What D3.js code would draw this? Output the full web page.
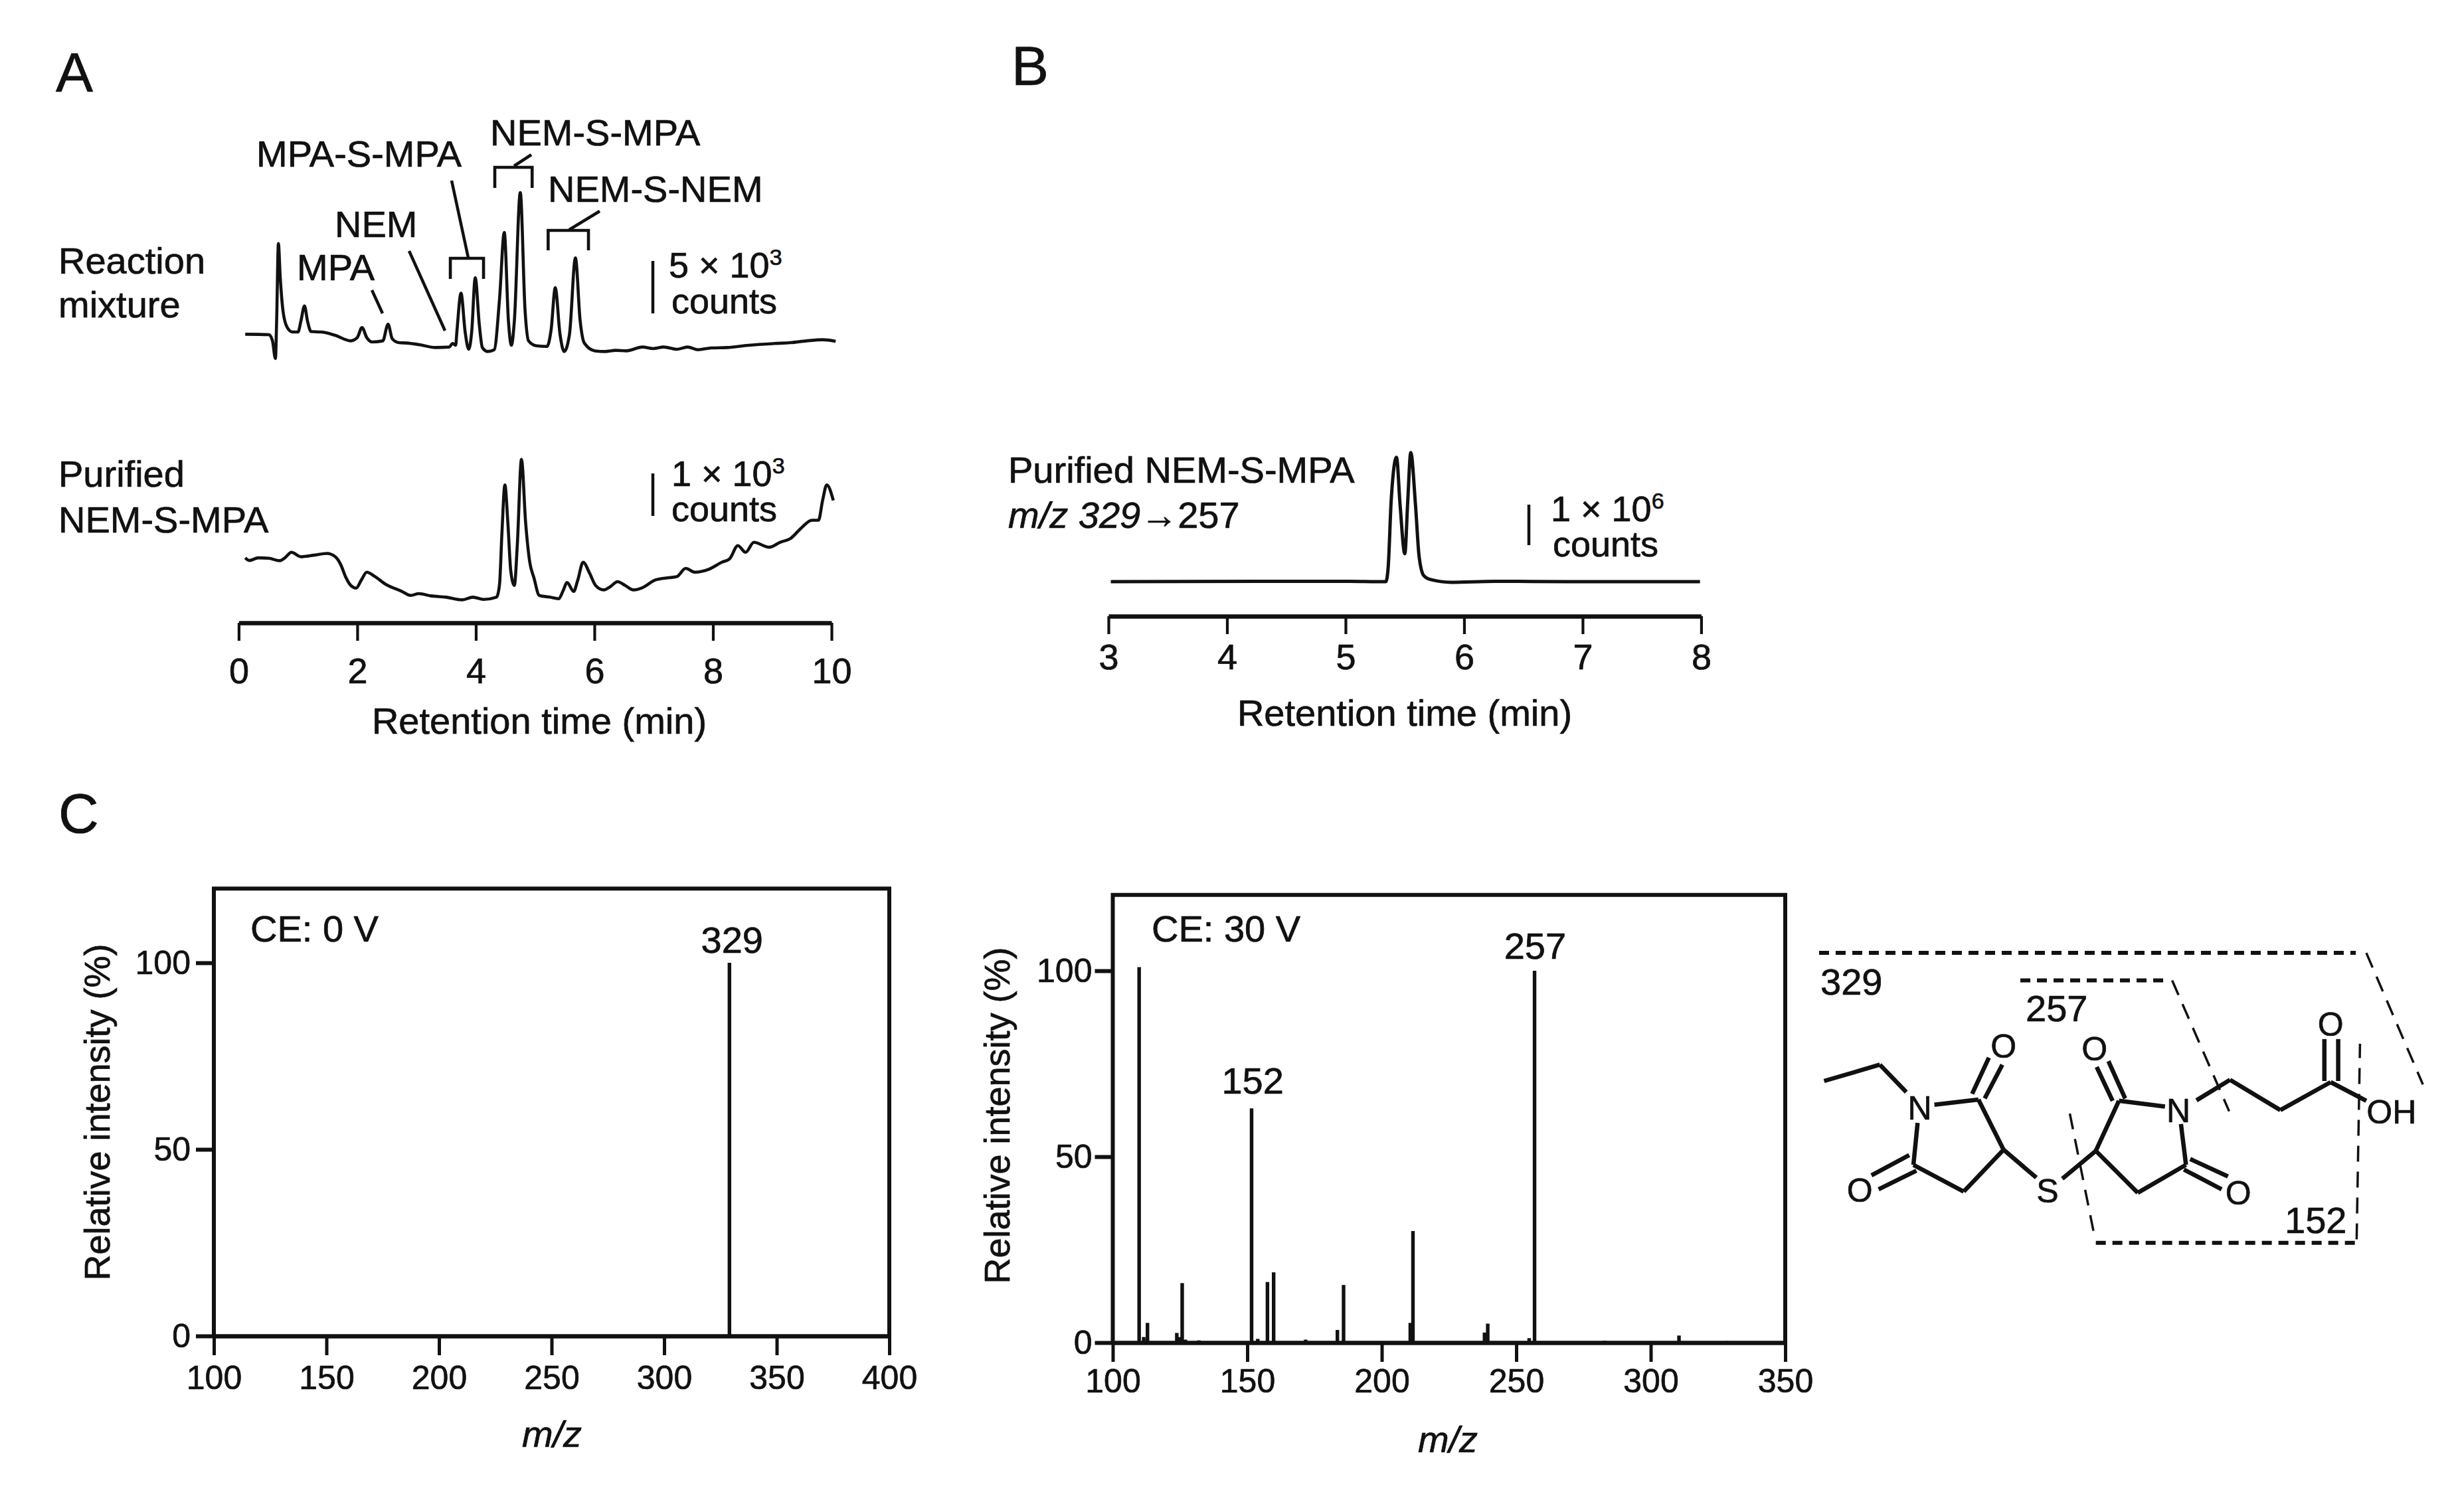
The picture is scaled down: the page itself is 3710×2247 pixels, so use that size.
<!DOCTYPE html>
<html>
<head>
<meta charset="utf-8">
<script src="https://cdn.jsdelivr.net/npm/d3@7"></script>
<style>
  html,body{margin:0;padding:0;background:#fff}
  svg{display:block}
  text{font-family:"Liberation Sans",Arial,sans-serif;font-size:56px;fill:#111;stroke:#111;stroke-width:.7px}
  .tick text{font-family:"Liberation Sans",Arial,sans-serif;font-size:54px;fill:#111;stroke:#111;stroke-width:.7px}
  .spec .tick text{font-size:50px}
</style>
</head>
<body>
<svg id="fig" width="3710" height="2247"></svg>
<script>
// panel A, reaction mixture trace: time (min), signal (counts)
const rmTime = [0.11,0.51,0.57,0.62,0.64,0.67,0.70,0.75,0.82,0.91,1.00,1.05,1.11,1.16,1.22,1.40,1.63,1.89,2.00,2.08,2.16,2.25,2.43,2.52,2.59,2.70,2.83,3.06,3.32,3.55,3.61,3.66,3.68,3.75,3.82,3.88,3.93,3.99,4.06,4.11,4.20,4.31,4.40,4.48,4.55,4.60,4.65,4.75,4.83,4.89,5.02,5.20,5.27,5.34,5.42,5.49,5.58,5.68,5.76,5.83,6.01,6.18,6.36,6.54,6.81,6.99,7.17,7.39,7.57,7.75,7.97,8.24,8.60,9.04,9.31,9.58,9.85,10.07];
const rmCounts = [2340,2300,1700,0,3620,11060,7870,4470,2980,2550,2550,3620,5060,3620,2600,2550,2230,1700,2020,2980,2020,1600,1700,3300,1910,1530,1490,1320,1060,1110,1450,1280,2550,6280,2550,890,2550,7770,3190,1060,680,850,5740,12130,3620,1280,3620,15960,4680,1700,1230,1170,2770,6810,2340,680,2340,9680,3620,1490,740,680,790,740,1110,960,1110,890,1110,850,1020,1060,1280,1450,1530,1700,1810,1660];
// panel A, purified trace
const puTime = [0.11,0.18,0.33,0.51,0.69,0.78,0.89,1.05,1.27,1.49,1.63,1.72,1.81,1.89,1.98,2.07,2.16,2.30,2.48,2.74,2.90,3.04,3.24,3.50,3.77,3.95,4.13,4.35,4.40,4.44,4.49,4.54,4.59,4.65,4.70,4.77,4.84,4.91,4.98,5.07,5.25,5.40,5.47,5.54,5.65,5.72,5.81,5.92,6.02,6.16,6.27,6.39,6.52,6.66,6.81,7.03,7.26,7.39,7.54,7.70,7.93,8.15,8.28,8.42,8.55,8.69,8.95,9.13,9.31,9.49,9.67,9.78,9.85,9.92,10.03];
const puCounts = [1052,989,1052,1041,984,1052,1184,1078,1115,1157,1078,894,579,395,331,526,710,605,421,263,158,200,147,116,53,116,63,116,421,1631,2788,1894,736,395,1368,3393,1894,947,579,158,116,79,263,463,252,526,947,684,395,289,368,484,395,289,342,526,579,605,800,710,778,947,1026,1341,1184,1420,1304,1420,1515,1762,1946,1946,2420,2788,2420];
// panel B, MRM trace
const mrmTime = [3.02,4.98,5.34,5.36,5.385,5.43,5.46,5.50,5.525,5.55,5.59,5.62,5.66,5.72,5.89,6.26,6.87,7.99];
const mrmCounts = [0,10000,0,370000,2000000,3070000,1900000,690000,2000000,3190000,1900000,640000,150000,50000,-15000,10000,0,0];
// panel C spectra
const ce0Mz = [329];
const ce0Int = [100];
const ce30Mz = [109.8,111.5,112.9,123.8,125,125.8,127,132,151.6,153.9,157.5,159.8,171.7,183.5,185.8,210.6,211.6,238.2,239.4,254.8,256.8,282.8,310.5,328.5];
const ce30Int = [101,1.5,5.3,2.6,1.5,16,0.8,0.6,63,1,16.3,18.9,0.8,3.4,15.5,5.3,30,2.7,5.1,1.2,100,0.5,1.9,0.4];

const svg = d3.select('#fig');

function label(x, y, str, opts={}){
  const t = svg.append('text').attr('x',x).attr('y',y).text(str);
  if(opts.anchor) t.attr('text-anchor',opts.anchor);
  if(opts.size) t.style('font-size',opts.size+'px');
  if(opts.italic) t.style('font-style','italic');
  return t;
}
function seg(x1,y1,x2,y2,w=4.5,dash){
  const l = svg.append('line').attr('x1',x1).attr('y1',y1).attr('x2',x2).attr('y2',y2)
    .attr('stroke','#111').attr('stroke-width',w);
  if(dash) l.attr('stroke-dasharray',dash);
  return l;
}
function trace(tt, cc, x, y, w=4.6){
  const line = d3.line().x((d,i)=>x(tt[i])).y(d=>y(d)).curve(d3.curveMonotoneX);
  svg.append('path').datum(cc).attr('d',line).attr('fill','none').attr('stroke','#111')
    .attr('stroke-width',w).attr('stroke-linejoin','round');
}
function timeAxis(x, yPos, vals, pad){
  const g = svg.append('g').attr('transform',`translate(0,${yPos})`)
    .call(d3.axisBottom(x).tickValues(vals).tickFormat(d3.format('d')).tickSize(27).tickSizeOuter(0).tickPadding(pad));
  g.select('.domain').attr('stroke','#111').attr('stroke-width',6.5);
  g.selectAll('.tick line').attr('stroke','#111').attr('stroke-width',4.2);
}
function scaleText(x, y, lead, exp, x2, y2){
  const t = label(x,y,lead,{size:54});
  t.append('tspan').attr('dy',-19).style('font-size','34px').text(exp);
  label(x2,y2,'counts',{size:54});
}

// ---- A
label(84,138,'A',{size:84});
const xA = d3.scaleLinear().domain([0,10]).range([359.4,1252]);
const yA1 = d3.scaleLinear().domain([0,5000]).range([540,461.7]);
const yA2 = d3.scaleLinear().domain([0,1000]).range([906.7,843.4]);
trace(rmTime, rmCounts, xA, yA1);
trace(puTime, puCounts, xA, yA2);
timeAxis(xA, 938, [0,2,4,6,8,10], 26);
label(812,1105,'Retention time (min)',{anchor:'middle'});
label(88,412,'Reaction'); label(88,478,'mixture');
label(88,733,'Purified'); label(88,802,'NEM-S-MPA');
seg(983,393,983,472); scaleText(1007,418,'5 × 10','3',1011,472);
seg(983,713,983,777); scaleText(1011,732,'1 × 10','3',1011,785);

label(447,422,'MPA'); label(504,357,'NEM'); label(386,251,'MPA-S-MPA');
label(738,219,'NEM-S-MPA'); label(825,304,'NEM-S-NEM');
seg(560,437,576,472); seg(616,378,670,498); seg(680,272,705,388);
// brackets, spans in minutes
[[3.57,4.13,389,420],[4.32,4.95,252,283],[5.22,5.90,347,377]].forEach(([a,b,top,bot])=>{
  svg.append('path').attr('d',`M${xA(a)},${bot}V${top}H${xA(b)}V${bot}`).attr('fill','none')
    .attr('stroke','#111').attr('stroke-width',4.6);
});
seg(774,250,800,233); seg(857,346,903,318);

// ---- B
label(1523,128,'B',{size:84});
const xB = d3.scaleLinear().domain([3,8]).range([1669,2561.4]);
const yB = d3.scaleLinear().domain([0,1e6]).range([876,815]);
trace(mrmTime, mrmCounts, xB, yB, 5);
timeAxis(xB, 928, [3,4,5,6,7,8], 15);
label(2115,1093,'Retention time (min)',{anchor:'middle'});
label(1518,727,'Purified NEM-S-MPA');
const mz = label(1518,795,'m/z 329',{italic:true});
mz.append('tspan').style('font-style','normal').text('→257');
seg(2302,760,2302,821); scaleText(2335,785,'1 × 10','6',2338,838);

// ---- C
label(88,1254,'C',{size:84});
function spectrum(o){
  const x = d3.scaleLinear().domain(o.xDom).range(o.xR);
  const y = d3.scaleLinear().domain([0,100]).range([o.y0,o.y100]);
  const top = y(o.yTop);
  svg.append('path').attr('d',`M${x.range()[0]},${o.y0}V${top}H${x.range()[1]}V${o.y0}`)
    .attr('fill','none').attr('stroke','#111').attr('stroke-width',6);
  svg.selectAll(null).data(o.mz).enter().append('line')
    .attr('x1',d=>x(d)).attr('x2',d=>x(d)).attr('y1',o.y0)
    .attr('y2',(d,i)=>y(o.int[i])).attr('stroke','#111').attr('stroke-width',5.4);
  const gx = svg.append('g').attr('class','spec').attr('transform',`translate(0,${o.y0})`)
    .call(d3.axisBottom(x).tickValues(o.xTicks).tickFormat(d3.format('d')).tickSize(29).tickSizeOuter(0).tickPadding(o.xPad));
  const gy = svg.append('g').attr('class','spec').attr('transform',`translate(${o.xR[0]},0)`)
    .call(d3.axisLeft(y).tickValues([0,50,100]).tickSize(27).tickSizeOuter(0).tickPadding(o.yPad));
  gx.select('.domain').attr('stroke','#111').attr('stroke-width',6.5);
  gy.select('.domain').attr('stroke','none');
  gx.selectAll('.tick line').attr('stroke','#111').attr('stroke-width',5);
  gy.selectAll('.tick line').attr('stroke','#111').attr('stroke-width',6);
  svg.append('text').attr('transform',`translate(${o.ylabX},${o.ylabY}) rotate(-90)`)
    .attr('text-anchor','middle').style('font-size','54px').text('Relative intensity (%)');
  label(o.mzX,o.mzY,'m/z',{anchor:'middle',italic:true});
  label(o.ceX,1418,o.ce);
  o.peaks.forEach(p=>label(x(p.mz)+p.dx,y(p.v)-p.up,String(p.mz),{anchor:'middle'}));
}
spectrum({xDom:[100,400],xR:[322,1339],y0:2012,y100:1450,yTop:119.9,xTicks:[100,150,200,250,300,350,400],xPad:15,yPad:8,
  mz:ce0Mz,int:ce0Int,ylabX:165,ylabY:1675,mzX:831,mzY:2179,ceX:377,ce:'CE: 0 V',peaks:[{mz:329,v:100,dx:4,up:15}]});
spectrum({xDom:[100,350],xR:[1675.5,2688],y0:2022,y100:1462,yTop:120.4,xTicks:[100,150,200,250,300,350],xPad:10,yPad:4,
  mz:ce30Mz,int:ce30Int,ylabX:1520,ylabY:1680,mzX:2180,mzY:2187,ceX:1734,ce:'CE: 30 V',peaks:[{mz:152,v:63,dx:0,up:22},{mz:257,v:100,dx:0,up:18}]});

// ---- fragment structure, drawn in its own small coordinate frame
const sx = d3.scaleLinear().domain([0,1568]).range([2720,3710]);
const sy = d3.scaleLinear().domain([0,1568]).range([1400,1950]);
const bonds = [[42,650,175,580],[175,580,238,698],[305,752,410,730],[395,705,435,550],[425,725,467,580],
  [410,730,470,945],[470,945,548,1065],[470,945,375,1125],[375,1125,255,1010],[255,1010,265,830],
  [245,968,155,1055],[262,1035,172,1115],[610,1070,690,950],[690,950,745,735],[745,735,855,760],
  [760,725,720,565],[730,735,692,590],[690,950,790,1130],[790,1130,905,1010],[905,1010,893,835],
  [915,985,1005,1060],[900,1030,990,1115],[930,733,1010,645],[1010,645,1130,775],[1130,775,1250,655],
  [1250,655,1335,735],[1235,650,1235,470],[1268,650,1268,470]];
bonds.forEach(b=>seg(sx(b[0]),sy(b[1]),sx(b[2]),sy(b[3]),6.5));
const atoms = [['N',270,765],['O',470,500],['S',575,1120],['O',127,1118],['N',887,775],['O',687,510],['O',1030,1130],['O',1250,405],['OH',1395,780]];
atoms.forEach(a=>label(sx(a[1]),sy(a[2])+18,a[0],{anchor:'middle',size:50}));
[[30,100,1310,100,'15 10',6],[510,218,860,218,'15 10',6],[690,1345,1312,1345,'15 10',6],
 [1335,100,1470,665,'24 15',3.5],[872,218,1008,780,'24 15',3.5],[628,790,685,1300,'24 15',3.5],[1312,1330,1320,490,'24 15',3.5]]
 .forEach(d=>seg(sx(d[0]),sy(d[1]),sx(d[2]),sy(d[3]),d[5],d[4]));
label(2741,1498,'329'); label(3050,1538,'257'); label(3440,1857,'152');
</script>
</body>
</html>
